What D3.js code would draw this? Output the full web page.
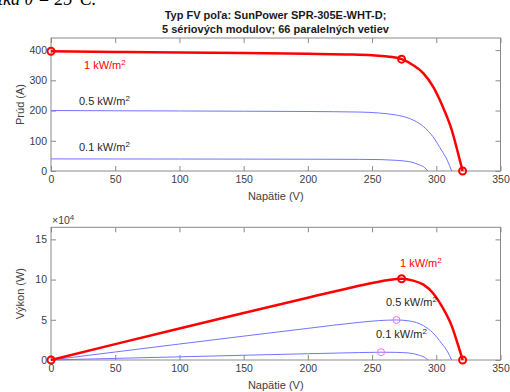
<!DOCTYPE html>
<html>
<head>
  <title>FV pole I-V a P-V</title>
  <script src="https://d3js.org/d3.v7.min.js"></script>
  <style>
    html, body { margin: 0; padding: 0; background: #fff; overflow: hidden; }
    svg { display: block; font-family: "Liberation Sans", Arial, sans-serif; }
  </style>
</head>
<body>
  <svg width="510" height="392"></svg>
  <script>
    // I-V curves (voltage V, current A)
    var volt1 = [0, 50, 100, 150, 200, 230, 250, 262, 273, 282, 290, 297.5, 305, 312, 317, 320.5];
    var curr1 = [396, 394, 392, 390, 387.5, 385.5, 383, 379, 370, 350, 323, 279, 213, 136, 58, 0];
    var volt05 = [0, 50, 100, 150, 200, 240, 255, 269, 279, 290, 297.5, 304, 308.5, 312];
    var curr05 = [200, 199.3, 198.6, 197.8, 196.8, 195, 192, 185, 174, 147, 113, 69, 36, 0];
    var volt01 = [0, 50, 100, 150, 200, 240, 257, 268, 279, 287, 291, 293.5];
    var curr01 = [40, 39.8, 39.6, 39.3, 39, 38.5, 37.7, 35.5, 31, 20, 11, 0];
    // maximum power points
    var mppVolt = [273, 269, 257];
    var mppCurr = [370, 185, 37.7];
    var xTicks = [0, 50, 100, 150, 200, 250, 300, 350];
    var iTicks = [0, 100, 200, 300, 400];
    var pTicks = [0, 5, 10, 15];

    var svg = d3.select("svg");
    var red = "#ff0000", blue = "#7373ff", magenta = "#ff66ff";
    var axisCol = "#8a8a8a", textCol = "#404040";

    function pts(v, c) { return v.map(function(d, i) { return {v: d, i: c[i], p: d * c[i] / 1e4}; }); }
    var s1 = pts(volt1, curr1), s05 = pts(volt05, curr05), s01 = pts(volt01, curr01);

    // half-cut caption line from the document above the figure
    svg.append("text").attr("x", -2).attr("y", 5)
      .attr("font-family", "'Liberation Serif', serif").attr("font-style", "italic")
      .attr("font-size", 18).attr("fill", "#000").text("tka \u03B8 = 25\u00B0C.");

    svg.append("text").attr("x", 275.5).attr("y", 19).attr("text-anchor", "middle")
      .attr("font-weight", "bold").attr("font-size", 11).attr("fill", "#1a1a1a")
      .text("Typ FV po\u013Ea: SunPower SPR-305E-WHT-D;");
    svg.append("text").attr("x", 275.5).attr("y", 33).attr("text-anchor", "middle")
      .attr("font-weight", "bold").attr("font-size", 11).attr("fill", "#1a1a1a")
      .text("5 s\u00E9riov\u00FDch modulov; 66 paraleln\u00FDch vetiev");

    var left = 51, right = 500.5;
    var x = d3.scaleLinear().domain([0, 350]).range([left, right]);

    function panel(top, bottom, y, yTicks, yLabel) {
      var g = svg.append("g");
      g.append("g").attr("transform", "translate(0," + bottom + ")")
        .call(d3.axisBottom(x).tickValues(xTicks).tickSizeInner(-5).tickSizeOuter(0).tickPadding(5));
      g.append("g").attr("transform", "translate(0," + top + ")")
        .call(d3.axisTop(x).tickValues(xTicks).tickSizeInner(-5).tickSizeOuter(0).tickFormat(""));
      g.append("g").attr("transform", "translate(" + left + ",0)")
        .call(d3.axisLeft(y).tickValues(yTicks).tickSizeInner(-5).tickSizeOuter(0).tickPadding(4));
      g.append("g").attr("transform", "translate(" + right + ",0)")
        .call(d3.axisRight(y).tickValues(yTicks).tickSizeInner(-5).tickSizeOuter(0).tickFormat(""));
      g.selectAll(".domain").remove();
      g.selectAll(".tick line").attr("stroke", axisCol);
      g.selectAll(".tick text").attr("fill", textCol).attr("font-size", 10.5)
        .attr("font-family", "'Liberation Sans', Arial, sans-serif");
      g.append("rect").attr("x", left).attr("y", top).attr("width", right - left).attr("height", bottom - top)
        .attr("fill", "none").attr("stroke", axisCol).attr("stroke-width", 1);
      g.append("text").attr("x", (left + right) / 2).attr("y", bottom + 29).attr("text-anchor", "middle")
        .attr("font-size", 11).attr("fill", textCol).text("Nap\u00E4tie (V)");
      g.append("text").attr("transform", "translate(24," + (top + bottom) / 2 + ") rotate(-90)")
        .attr("text-anchor", "middle").attr("font-size", 11).attr("fill", textCol).text(yLabel);
      return g;
    }

    function label(g, px, py, txt, col) {
      var t = g.append("text").attr("x", px).attr("y", py).attr("font-size", 11).attr("fill", col);
      t.append("tspan").text(txt);
      t.append("tspan").attr("dy", -4).attr("font-size", 8).text("2");
    }

    function ring(g, cx, cy, col, r, w) {
      g.append("circle").attr("cx", cx).attr("cy", cy).attr("r", r)
        .attr("fill", "none").attr("stroke", col).attr("stroke-width", w);
    }

    // ---- top panel: current
    var yI = d3.scaleLinear().domain([0, 440]).range([171, 38]);
    var gI = panel(38, 171, yI, iTicks, "Pr\u00FAd (A)");
    var lineI = d3.line().x(d => x(d.v)).y(d => yI(d.i)).curve(d3.curveMonotoneX);
    gI.append("path").datum(s01).attr("d", lineI).attr("fill", "none").attr("stroke", blue).attr("stroke-width", 1);
    gI.append("path").datum(s05).attr("d", lineI).attr("fill", "none").attr("stroke", blue).attr("stroke-width", 1);
    gI.append("path").datum(s1).attr("d", lineI).attr("fill", "none").attr("stroke", red).attr("stroke-width", 2.5);
    ring(gI, x(volt1[0]), yI(curr1[0]), red, 3.5, 2);
    ring(gI, x(mppVolt[0]), yI(mppCurr[0]), red, 3.5, 2);
    ring(gI, x(volt1[volt1.length - 1]), yI(0), red, 3.5, 2);
    label(gI, 84, 69, "1 kW/m", red);
    label(gI, 79, 105, "0.5 kW/m", "#262626");
    label(gI, 79, 151, "0.1 kW/m", "#262626");

    // ---- bottom panel: power
    var yP = d3.scaleLinear().domain([0, 16.5]).range([360, 227.3]);
    var gP = panel(227.3, 360, yP, pTicks, "V\u00FDkon (W)");
    var t4 = gP.append("text").attr("x", 52).attr("y", 224).attr("font-size", 10.5).attr("fill", textCol);
    t4.append("tspan").text("\u00D710");
    t4.append("tspan").attr("dy", -4.5).attr("font-size", 8).text("4");
    var lineP = d3.line().x(d => x(d.v)).y(d => yP(d.p)).curve(d3.curveMonotoneX);
    gP.append("path").datum(s01).attr("d", lineP).attr("fill", "none").attr("stroke", blue).attr("stroke-width", 1);
    gP.append("path").datum(s05).attr("d", lineP).attr("fill", "none").attr("stroke", blue).attr("stroke-width", 1);
    gP.append("path").datum(s1).attr("d", lineP).attr("fill", "none").attr("stroke", red).attr("stroke-width", 2.5);
    ring(gP, x(0), yP(0), red, 3.5, 2);
    ring(gP, x(mppVolt[0]), yP(mppVolt[0] * mppCurr[0] / 1e4), red, 3.5, 2);
    ring(gP, x(volt1[volt1.length - 1]), yP(0), red, 3.5, 2);
    ring(gP, x(mppVolt[1]), yP(mppVolt[1] * mppCurr[1] / 1e4), magenta, 3.5, 1);
    ring(gP, x(mppVolt[2]), yP(mppVolt[2] * mppCurr[2] / 1e4), magenta, 3.5, 1);
    label(gP, 400, 267, "1 kW/m", red);
    label(gP, 386, 306, "0.5 kW/m", "#262626");
    label(gP, 376, 338, "0.1 kW/m", "#262626");
  </script>
</body>
</html>
